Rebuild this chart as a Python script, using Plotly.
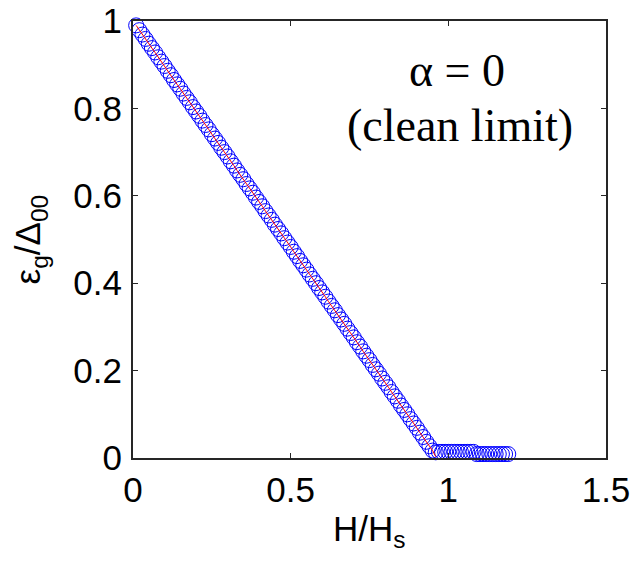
import plotly.graph_objects as go

# H/Hs values for the circle markers
h_circ = [round(0.01 * i, 2) for i in range(1, 120)]
# eps_g / Delta_00 (circles)
eps_circ = [
    0.990, 0.979, 0.969, 0.959, 0.948, 0.938, 0.928, 0.917, 0.907, 0.897,
    0.886, 0.876, 0.865, 0.855, 0.845, 0.834, 0.824, 0.814, 0.803, 0.793,
    0.783, 0.772, 0.762, 0.752, 0.741, 0.731, 0.721, 0.710, 0.700, 0.690,
    0.679, 0.669, 0.658, 0.648, 0.638, 0.627, 0.617, 0.607, 0.596, 0.586,
    0.576, 0.565, 0.555, 0.545, 0.534, 0.524, 0.514, 0.503, 0.493, 0.483,
    0.472, 0.462, 0.451, 0.441, 0.431, 0.420, 0.410, 0.400, 0.389, 0.379,
    0.369, 0.358, 0.348, 0.338, 0.327, 0.317, 0.307, 0.296, 0.286, 0.276,
    0.265, 0.255, 0.244, 0.234, 0.224, 0.213, 0.203, 0.193, 0.182, 0.172,
    0.162, 0.151, 0.141, 0.131, 0.120, 0.110, 0.100, 0.089, 0.079, 0.069,
    0.058, 0.048, 0.037, 0.027, 0.017, 0.013, 0.014, 0.014, 0.014, 0.014,
    0.014, 0.014, 0.014, 0.014, 0.014, 0.014, 0.014, 0.014, 0.009, 0.009,
    0.009, 0.009, 0.009, 0.009, 0.009, 0.009, 0.009, 0.009, 0.009,
]
# red curve
h_line = h_circ[:96]
eps_line = eps_circ[:95] + [0.003]

x_ticks = [0, 0.5, 1, 1.5]
y_ticks = [0, 0.2, 0.4, 0.6, 0.8, 1]

fig = go.Figure()
fig.add_trace(go.Scatter(
    x=h_circ, y=eps_circ, mode="markers",
    marker=dict(symbol="circle-open", size=15, color="#0000ff", line=dict(width=1, color="#0000ff")),
    showlegend=False, cliponaxis=False,
))
fig.add_trace(go.Scatter(
    x=h_line, y=eps_line, mode="lines",
    line=dict(color="#ff0000", width=1),
    showlegend=False, cliponaxis=False,
))

axis_common = dict(
    showline=True, mirror="ticks", linecolor="#262626", linewidth=2,
    ticks="inside", ticklen=5, tickwidth=1, tickcolor="#262626",
    showgrid=False, zeroline=False, automargin=False,
    tickfont=dict(family="Liberation Sans, Arial", size=35, color="black"),
)
fig.update_layout(
    width=635, height=570,
    margin=dict(l=133, r=29, t=21, b=112, autoexpand=False),
    plot_bgcolor="white", paper_bgcolor="white",
    xaxis=dict(range=[0, 1.5], tickvals=x_ticks, ticktext=[str(v) for v in x_ticks],
               ticklabelstandoff=0, **axis_common),
    yaxis=dict(range=[0, 1], tickvals=y_ticks, ticktext=["0", "0.2", "0.4", "0.6", "0.8", "1"],
               ticklabelstandoff=2, **axis_common),
    annotations=[
        dict(text="H/H<sub>s</sub>", xref="paper", yref="paper", x=0.5, y=-0.112,
             xanchor="center", yanchor="top", showarrow=False,
             font=dict(family="Liberation Sans, Arial", size=35, color="black")),
        dict(text="ε<sub>g</sub>/Δ<sub>00</sub>", xref="paper", yref="paper", x=-0.218, y=0.5,
             xanchor="center", yanchor="middle", textangle=-90, showarrow=False,
             font=dict(family="Liberation Sans, Arial", size=35, color="black")),
        dict(text="α = 0", xref="x", yref="y", x=1.028, y=0.886,
             xanchor="center", yanchor="middle", showarrow=False,
             font=dict(family="Liberation Serif, Times New Roman", size=46, color="black")),
        dict(text="(clean limit)", xref="x", yref="y", x=1.036, y=0.760,
             xanchor="center", yanchor="middle", showarrow=False,
             font=dict(family="Liberation Serif, Times New Roman", size=46, color="black")),
    ],
)
fig.write_html("out.html", config={"displayModeBar": False},
               post_script="document.body.style.margin='0';")
